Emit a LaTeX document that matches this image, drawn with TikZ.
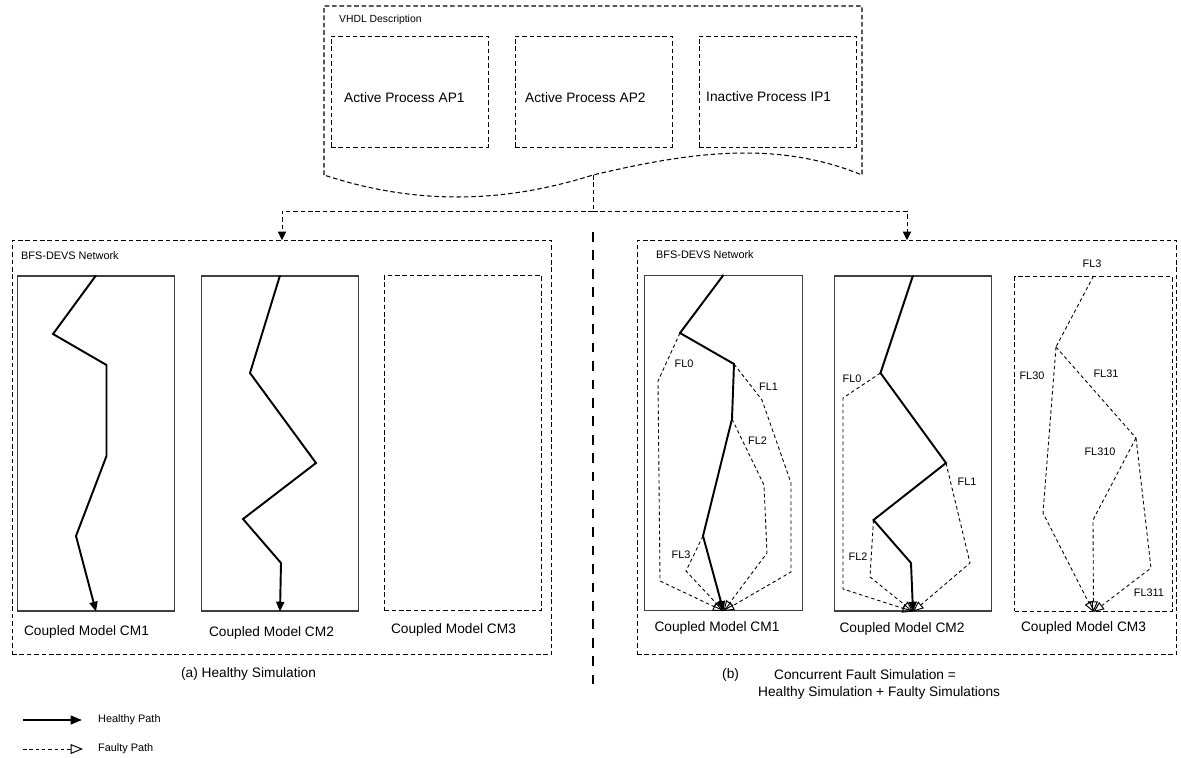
\documentclass[tikz,border=0pt]{standalone}
\usepackage{fontspec}
\setmainfont{Liberation Sans}
\usetikzlibrary{positioning, arrows.meta}

\begin{document}
\begin{tikzpicture}[
  x=0.02cm, y=-0.02cm,
  font=\fontsize{7.8}{9}\selectfont,
  dsh/.style={dash pattern=on 2.6pt off 1.6pt},
  procbox/.style={draw, dsh, line width=0.5pt, minimum width=3.14cm, minimum height=2.22cm},
  netbox/.style={draw, dsh, line width=0.6pt, minimum width=10.8cm, minimum height=8.28cm},
  cmbox/.style={draw=black!75, line width=0.7pt, minimum width=3.15cm, minimum height=6.7cm},
  idlebox/.style={draw, dsh, line width=0.6pt, minimum width=3.15cm, minimum height=6.7cm},
  small/.style={font=\fontsize{6.2}{7.5}\selectfont},
  tiny/.style={font=\fontsize{5.9}{7}\selectfont},
  healthy/.style={line width=1.1pt, -{Triangle[length=5.6pt, width=4.6pt]}},
  fline/.style={line width=0.5pt, dash pattern=on 2pt off 1.6pt},
  faulty/.style={fline, -{Triangle[open, length=6pt, width=5pt, line width=0.55pt]}},
  feed/.style={dsh, line width=0.5pt, -{Triangle[length=4.8pt, width=4.8pt]}}
]
\useasboundingbox (0,0) rectangle (1181,758);

% VHDL description
\draw[dsh, line width=0.6pt] (324,175) -- (324,6) -- (862,6) -- (862,175)
  .. controls (777,140) and (690,152) .. (593,175)
  .. controls (520,198) and (430,210) .. (324,175);
\node[tiny, anchor=west] (vhdl) at (333,20) {VHDL Description};
\node[procbox] (ap1) at (409.5,91.5) {};
\node[procbox] (ap2) at (593.5,91.5) {};
\node[procbox] (ip1) at (777.5,91.5) {};
\node[anchor=west] (ap1t) at (338,98) {Active Process AP1};
\node[anchor=west] (ap2t) at (519,98) {Active Process AP2};
\node[anchor=west] (ip1t) at (700,97) {Inactive Process IP1};

% networks
\node[netbox] (netA) at (282,447.5) {};
\node[netbox] (netB) at (907,447.5) {};
\node[small, anchor=west] (netAt) at (15,256) {BFS-DEVS Network};
\node[small, anchor=west] (netBt) at (650,255) {BFS-DEVS Network};

\coordinate (vout) at (593,175);
\coordinate (split) at (593,211);
\draw[dsh, line width=0.5pt] (vout) -- (split);
\draw[feed] (split) -| (netA.north);
\draw[feed] (split) -| (netB.north);

% divider
\coordinate (divtop) at (593,232);
\coordinate (divbot) at (593,685);
\draw[line width=1.1pt, dash pattern=on 5.5pt off 5pt] (divtop) -- (divbot);

% coupled models
\node[cmbox] (acm1) at (96,443.5) {};
\node[cmbox] (acm2) at (280,443.5) {};
\node[idlebox] (acm3) at (463,443) {};
\node[cmbox] (bcm1) at (723.5,443) {};
\node[cmbox] (bcm2) at (913,443.5) {};
\node[idlebox] (bcm3) at (1093.5,444) {};

\node (acm1t) at (86.5,632) {Coupled Model CM1};
\node (acm2t) at (271.5,633) {Coupled Model CM2};
\node (acm3t) at (453.5,630) {Coupled Model CM3};
\node (bcm1t) at (717,628) {Coupled Model CM1};
\node (bcm2t) at (902,629) {Coupled Model CM2};
\node (bcm3t) at (1083.5,628) {Coupled Model CM3};

% healthy simulation
\draw[healthy] (acm1.north) -- (53,334) -- (106.5,365) -- (106.5,456) -- (76,536) -- (acm1.south);
\draw[healthy] (acm2.north) -- (250,373) -- (316,463) -- (243,519) -- (281,563) -- (acm2.south);

% fault simulation, CM1
\coordinate (b1p1) at (680,333);
\coordinate (b1p2) at (734,364);
\coordinate (b1p3) at (732,419);
\coordinate (b1p4) at (703,536);
\draw[faulty] (b1p1) -- (658,381) -- (660,581) -- (bcm1.south);
\draw[faulty] (b1p2) -- (762,400) -- (791,483) -- (791,572) -- (bcm1.south);
\draw[faulty] (b1p3) -- (764,485) -- (767,553) -- (bcm1.south);
\draw[faulty] (b1p4) -- (686,571) -- (bcm1.south);
\draw[healthy] (bcm1.north) -- (b1p1) -- (b1p2) -- (b1p3) -- (b1p4) -- (bcm1.south);
\node[small] (b1f0) at (684,364) {FL0};
\node[small] (b1f1) at (768.5,387) {FL1};
\node[small] (b1f2) at (757.5,441) {FL2};
\node[small] (b1f3) at (681,555) {FL3};

% fault simulation, CM2
\coordinate (b2p1) at (880.5,373);
\coordinate (b2p2) at (946,463);
\coordinate (b2p3) at (873.5,520);
\coordinate (b2p4) at (911,563);
\draw[faulty] (b2p1) -- (843,398) -- (843,589) -- (bcm2.south);
\draw[faulty] (b2p2) -- (970,563) -- (bcm2.south);
\draw[faulty] (b2p3) -- (870,577) -- (bcm2.south);
\draw[healthy] (bcm2.north) -- (b2p1) -- (b2p2) -- (b2p3) -- (b2p4) -- (bcm2.south);
\node[small] (b2f0) at (852,379) {FL0};
\node[small] (b2f1) at (967,482) {FL1};
\node[small] (b2f2) at (858,557) {FL2};

% fault simulation, CM3
\coordinate (b3p1) at (1056,347);
\coordinate (b3p2) at (1136,438);
\draw[fline] (bcm3.north) -- (b3p1);
\draw[fline] (b3p1) -- (b3p2);
\draw[faulty] (b3p1) -- (1043,513) -- (bcm3.south);
\draw[faulty] (b3p2) -- (1093,520) -- (bcm3.south);
\draw[faulty] (b3p2) -- (1151,568) -- (bcm3.south);
\node[small] (b3f3) at (1092,264) {FL3};
\node[small] (b3f30) at (1032,376) {FL30};
\node[small] (b3f31) at (1106,374) {FL31};
\node[small] (b3f310) at (1100,452) {FL310};
\node[small] (b3f311) at (1149,593) {FL311};

% captions
\node (capA) at (248.5,674) {(a) Healthy Simulation};
\node[anchor=west] (capB) at (716,675) {(b)};
\node[anchor=west] (capB1) at (768,675) {Concurrent Fault Simulation =};
\node[anchor=west] (capB2) at (752,693) {Healthy Simulation + Faulty Simulations};

% legend
\coordinate (lgh1) at (23,720);
\coordinate (lgh2) at (82,720);
\coordinate (lgf1) at (23,749);
\coordinate (lgf2) at (83,749);
\draw[healthy, -{Triangle[length=6.5pt, width=5pt]}] (lgh1) -- (lgh2);
\draw[faulty, -{Triangle[open, length=7pt, width=5.6pt, line width=0.55pt]}] (lgf1) -- (lgf2);
\node[small, right=0.2cm of lgh2] (lght) {Healthy Path};
\node[small, right=0.18cm of lgf2] (lgft) {Faulty Path};
\end{tikzpicture}
\end{document}
